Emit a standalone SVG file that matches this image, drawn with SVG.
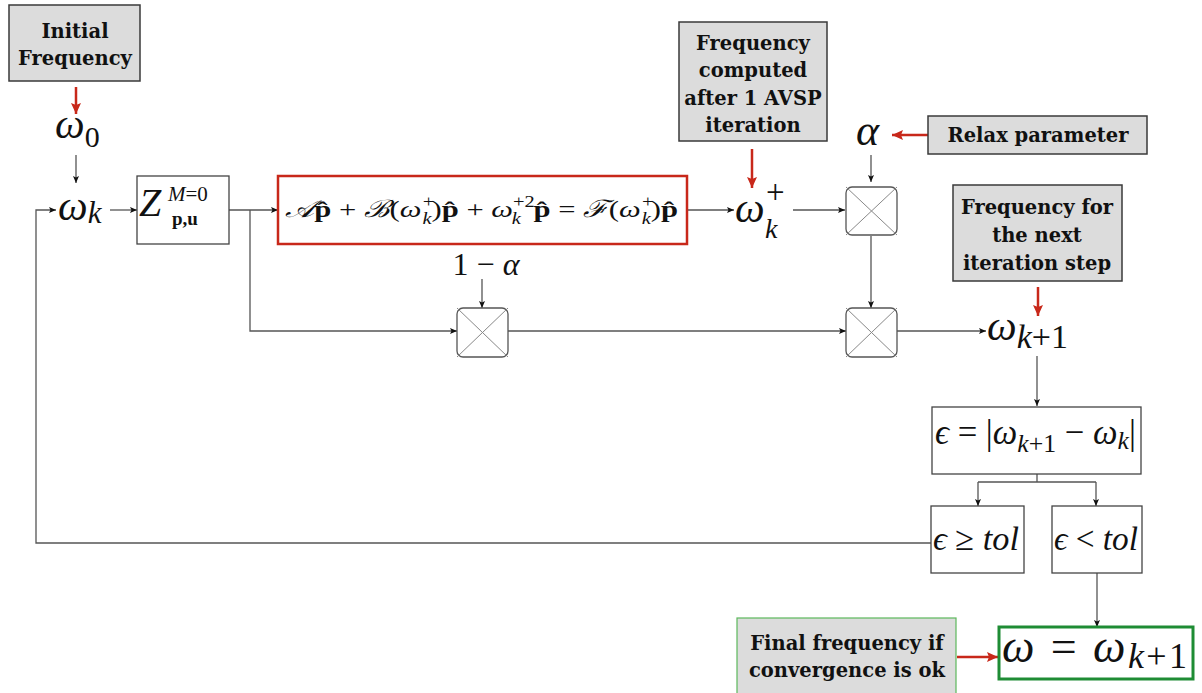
<svg xmlns="http://www.w3.org/2000/svg" width="1202" height="693" viewBox="0 0 1202 693">
<defs>
<style>
.lbl{fill:#dcdcdc;stroke:#3a3a3a;stroke-width:1.5}
.lt{font-family:"DejaVu Serif",serif;font-weight:bold;font-size:19.5px;fill:#111;text-anchor:middle}
.box{fill:#fff;stroke:#444;stroke-width:1.3}
.m{font-family:"Liberation Serif",serif;font-style:italic;fill:#111}
.mu{font-family:"Liberation Serif",serif;font-style:normal;fill:#111}
.c{fill:none;stroke:#555;stroke-width:1.3}
.r{fill:none;stroke:#c8281a;stroke-width:2.5}
.mul{fill:#fff;stroke:#555;stroke-width:1.3}
.x{stroke:#888;stroke-width:1}
</style>
<marker id="a" markerUnits="userSpaceOnUse" markerWidth="8" markerHeight="8" refX="7" refY="4" orient="auto"><path d="M0,1 L7,4 L0,7 L1.5,4 Z" fill="#111"/></marker>
<marker id="ra" markerUnits="userSpaceOnUse" markerWidth="12" markerHeight="12" refX="11" refY="6" orient="auto"><path d="M0,1 L11,6 L0,11 L2,6 Z" fill="#c8281a"/></marker>
</defs>
<rect width="1202" height="693" fill="#fff"/>

<g id="connectors">
<path class="r" d="M76,87 V114" marker-end="url(#ra)"/>
<path class="c" d="M76,155 V183" marker-end="url(#a)"/>
<path class="c" d="M110,210 H137" marker-end="url(#a)"/>
<path class="c" d="M229,210 H278" marker-end="url(#a)"/>
<path class="c" d="M250,210 V331 H457" marker-end="url(#a)"/>
<path class="c" d="M687,210 H734" marker-end="url(#a)"/>
<path class="c" d="M793,210 H845" marker-end="url(#a)"/>
<path class="r" d="M752,149 V188" marker-end="url(#ra)"/>
<path class="r" d="M928,135 H892" marker-end="url(#ra)"/>
<path class="c" d="M871,155 V182" marker-end="url(#a)"/>
<path class="c" d="M482,279 V308" marker-end="url(#a)"/>
<path class="c" d="M508,331 H846" marker-end="url(#a)"/>
<path class="c" d="M871,236 V308" marker-end="url(#a)"/>
<path class="c" d="M897,331 H986" marker-end="url(#a)"/>
<path class="r" d="M1038,287 V316" marker-end="url(#ra)"/>
<path class="c" d="M1037,356 V406" marker-end="url(#a)"/>
<path class="c" d="M1037,474 V482 M978,482 H1096"/>
<path class="c" d="M978,482 V506" marker-end="url(#a)"/>
<path class="c" d="M1096,482 V506" marker-end="url(#a)"/>
<path class="c" d="M931,543 H36 V210 H56" marker-end="url(#a)"/>
<path class="c" d="M1097,573 V627" marker-end="url(#a)"/>
<path class="r" d="M957,657 H998" marker-end="url(#ra)"/>
</g>

<g id="initial-frequency">
<rect class="lbl" x="9" y="5" width="131" height="76"/>
<text class="lt" x="75" y="38">Initial</text>
<text class="lt" x="75" y="65">Frequency</text>
</g>

<g id="omega0">
<text class="m" x="55" y="138" font-size="42">ω<tspan class="mu" font-size="30" dy="9">0</tspan></text>
</g>

<g id="omegak">
<text class="m" x="58" y="220" font-size="42">ω<tspan font-size="31" dy="3">k</tspan></text>
</g>

<g id="z-block">
<rect class="box" x="137" y="176" width="92" height="68"/>
<text class="m" x="139" y="216" font-size="40">Z</text>
<text class="m" x="168" y="201" font-size="21">M<tspan class="mu" font-style="normal">=0</tspan></text>
<text class="mu" x="172" y="225" font-size="19" font-weight="bold">p,u</text>
</g>

<g id="avsp-equation">
<rect x="278" y="176" width="409" height="68" fill="#fff" stroke="#c8281a" stroke-width="2.5"/>
<text class="m" x="285" y="217" font-size="24" textLength="393" lengthAdjust="spacingAndGlyphs">𝒜<tspan class="mu" font-weight="bold">p̂</tspan><tspan class="mu"> + </tspan>ℬ<tspan class="mu">(</tspan>ω<tspan font-size="16" dy="-10">+</tspan><tspan font-size="16" dx="-10" dy="17">k</tspan><tspan class="mu" dy="-7">)</tspan><tspan class="mu" font-weight="bold">p̂</tspan><tspan class="mu"> + </tspan>ω<tspan class="mu" font-size="16" dy="-10">+2</tspan><tspan font-size="16" dx="-18" dy="17">k</tspan><tspan class="mu" font-weight="bold" dx="10" dy="-7">p̂</tspan><tspan class="mu"> = </tspan>ℱ<tspan class="mu">(</tspan>ω<tspan font-size="16" dy="-10">+</tspan><tspan font-size="16" dx="-10" dy="17">k</tspan><tspan class="mu" dy="-7">)</tspan><tspan class="mu" font-weight="bold">p̂</tspan></text>
</g>

<g id="freq-computed">
<rect class="lbl" x="679" y="22" width="148" height="119"/>
<text class="lt" x="753" y="50">Frequency</text>
<text class="lt" x="753" y="77">computed</text>
<text class="lt" x="753" y="105">after 1 AVSP</text>
<text class="lt" x="753" y="132">iteration</text>
</g>

<g id="omegak-plus">
<text class="m" x="735" y="222" font-size="42">ω</text>
<text class="mu" x="766" y="203" font-size="33">+</text>
<text class="m" x="765" y="238" font-size="28">k</text>
</g>

<g id="alpha">
<text class="m" x="856" y="145" font-size="44">α</text>
</g>

<g id="relax-parameter">
<rect class="lbl" x="928" y="116" width="219" height="38"/>
<text class="lt" x="1038" y="142">Relax parameter</text>
</g>

<g id="mult-alpha">
<rect class="mul" x="846" y="187" width="51" height="48" rx="6"/>
<path class="x" d="M846,187 L897,235 M897,187 L846,235"/>
</g>

<g id="one-minus-alpha">
<text class="mu" x="486" y="275" font-size="32" text-anchor="middle">1 − <tspan class="m">α</tspan></text>
</g>

<g id="mult-one-minus-alpha">
<rect class="mul" x="457" y="308" width="51" height="49" rx="6"/>
<path class="x" d="M457,308 L508,357 M508,308 L457,357"/>
</g>

<g id="mult-sum">
<rect class="mul" x="846" y="308" width="51" height="49" rx="6"/>
<path class="x" d="M846,308 L897,357 M897,308 L846,357"/>
</g>

<g id="freq-next">
<rect class="lbl" x="953" y="185" width="169" height="96"/>
<text class="lt" x="1037" y="214">Frequency for</text>
<text class="lt" x="1037" y="242">the next</text>
<text class="lt" x="1037" y="270">iteration step</text>
</g>

<g id="omega-k1">
<text class="m" x="987" y="340" font-size="42">ω<tspan font-size="34" dy="8">k</tspan><tspan class="mu" font-size="34">+1</tspan></text>
</g>

<g id="epsilon">
<rect class="box" x="932" y="407" width="209" height="67"/>
<text class="m" x="935" y="444" font-size="35" textLength="201" lengthAdjust="spacingAndGlyphs">ϵ<tspan class="mu"> = |</tspan>ω<tspan font-size="26" dy="8">k</tspan><tspan class="mu" font-size="26">+1</tspan><tspan class="mu" dy="-8"> − </tspan>ω<tspan font-size="26" dy="5">k</tspan><tspan class="mu" dy="-5">|</tspan></text>
</g>

<g id="eps-ge-tol">
<rect class="box" x="931" y="506" width="93" height="67"/>
<text class="m" x="933" y="550" font-size="34" textLength="86" lengthAdjust="spacingAndGlyphs">ϵ <tspan class="mu">≥</tspan> tol</text>
</g>

<g id="eps-lt-tol">
<rect class="box" x="1052" y="506" width="90" height="67"/>
<text class="m" x="1054" y="550" font-size="34" textLength="84" lengthAdjust="spacingAndGlyphs">ϵ <tspan class="mu">&lt;</tspan> tol</text>
</g>

<g id="final">
<rect x="999" y="627" width="194" height="52" fill="#fff" stroke="#1e8c34" stroke-width="3"/>
<text class="m" x="1002" y="662" font-size="46" textLength="185" lengthAdjust="spacing">ω <tspan class="mu">=</tspan> ω<tspan font-size="36" dy="6">k</tspan><tspan class="mu" font-size="36">+1</tspan></text>
</g>

<g id="final-label">
<rect x="737" y="618" width="219" height="80" fill="#dcdcdc" stroke="#5cb85c" stroke-width="1.2"/>
<text class="lt" x="847" y="650">Final frequency if</text>
<text class="lt" x="847" y="677">convergence is ok</text>
</g>
</svg>
